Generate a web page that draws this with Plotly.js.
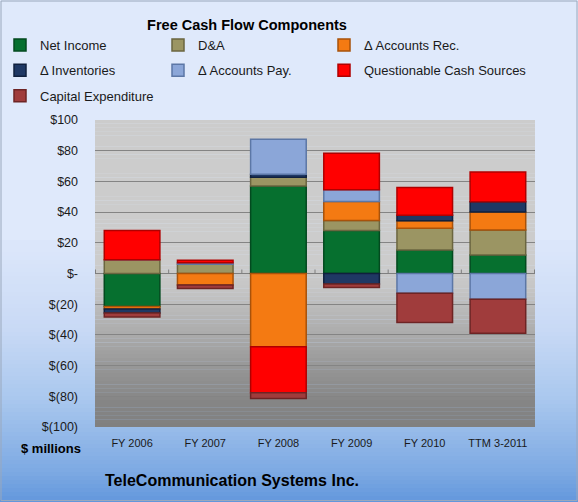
<!DOCTYPE html>
<html><head><meta charset="utf-8">
<script src="https://cdn.plot.ly/plotly-3.0.1.min.js"></script>
<style>html,body{margin:0;padding:0;background:#dde7f9;}#chart{width:578px;height:502px;}</style>
</head><body><div id="chart"></div>
<script>
const categories = ["FY 2006", "FY 2007", "FY 2008", "FY 2009", "FY 2010", "TTM 3-2011"];
const netIncome     = [-21.5,  0,    57,   28,   15.3, 12];
const depAmort      = [9,      6,    5.7,  6.5,  14.1, 16.3];
const accountsRec   = [-1.7,  -7.5, -47.7, 12.4, 5,    11.7];
const inventories   = [-2.6,   0,    2,   -6.8,  3.5,  6.7];
const accountsPay   = [0,      1,    22.8, 7.6, -12.9, -16.8];
const questionable  = [19,     1.7, -30,   23.9, 18.2, 19.5];
const capex         = [-2.6,  -2.2, -3.7, -2.4, -19.1, -22.1];

const tickVals = [100, 80, 60, 40, 20, 0, -20, -40, -60, -80, -100];
const tickText = ["$100", "$80", "$60", "$40", "$20", "$-", "$(20)", "$(40)", "$(60)", "$(80)", "$(100)"];

const seriesDefs = [
  {name: "Net Income", y: netIncome, color: "#06702f", line: "#034a1f", legend: "legend"},
  {name: "D&A", y: depAmort, color: "#9b9563", line: "#6b6640", legend: "legend2"},
  {name: "\u0394 Accounts Rec.", y: accountsRec, color: "#f47a12", line: "#a8520a", legend: "legend3"},
  {name: "\u0394 Inventories", y: inventories, color: "#1f3864", line: "#10203e", legend: "legend"},
  {name: "\u0394 Accounts Pay.", y: accountsPay, color: "#8ba6d8", line: "#5c77a6", legend: "legend2"},
  {name: "Questionable Cash Sources", y: questionable, color: "#ff0000", line: "#b00000", legend: "legend3"},
  {name: "Capital Expenditure", y: capex, color: "#a03c3c", line: "#6e2424", legend: "legend"}
];

const font = "Liberation Sans, Arial, sans-serif";
const txt = "#1a1a1a";
const traces = seriesDefs.map((s, i) => ({
  type: "bar", name: s.name, x: categories, y: s.y, legend: s.legend, legendgroup: "g" + i,
  marker: {color: s.color, line: {color: s.line, width: 1.5}},
  hoverinfo: "name+y"
}));

const shapes = [];
function lerp(a, b, t) { return a + (b - a) * t; }
// paper background gradient (pixel rows converted to paper fractions)
const H = 502, plotTop = 120, plotBot = 427, plotH = plotBot - plotTop;
const paperStops = [[0, [223, 233, 251]], [250, [219, 230, 250]], [330, [200, 217, 245]], [400, [169, 199, 238]], [470, [126, 170, 227]], [502, [98, 151, 220]]];
function stopColor(stops, v) {
  for (let k = 0; k < stops.length - 1; k++) {
    const a = stops[k], b = stops[k + 1];
    if (v >= a[0] && v <= b[0]) {
      const t = (v - a[0]) / (b[0] - a[0]);
      return a[1].map((c, j) => Math.round(lerp(c, b[1][j], t)));
    }
  }
  return stops[stops.length - 1][1];
}
for (let py = 240; py < H; py += 4) {
  const c = stopColor(paperStops, py + 2);
  shapes.push({type: "rect", xref: "paper", yref: "paper", x0: -95 / 440, x1: 483 / 440,
    y0: (plotBot - py) / plotH, y1: (plotBot - py - 4.5) / plotH,
    fillcolor: `rgb(${c[0]},${c[1]},${c[2]})`, line: {width: 0}, layer: "below"});
}
// plot area gray gradient (in data units)
const grayStops = [[-100, [128]], [-82, [134]], [-63, [149]], [-41, [170]], [-10, [197]], [5, [204]], [100, [204]]];
function grayAt(v) {
  for (let k = 0; k < grayStops.length - 1; k++) {
    const a = grayStops[k], b = grayStops[k + 1];
    if (v >= a[0] && v <= b[0]) return Math.round(lerp(a[1][0], b[1][0], (v - a[0]) / (b[0] - a[0])));
  }
  return 204;
}
for (let v = -100; v < 100; v += 2.5) {
  const c = grayAt(v + 1.25);
  shapes.push({type: "rect", xref: "x domain", yref: "y", x0: 0, x1: 1, y0: v, y1: v + 2.6,
    fillcolor: `rgb(${c},${c},${c})`, line: {width: 0}, layer: "below"});
}
// small category tick marks on the zero line
for (let k = 0; k <= categories.length; k++) {
  shapes.push({type: "line", xref: "x", yref: "y", x0: k - 0.5, x1: k - 0.5, y0: 0, y1: 2.6,
    line: {color: "#7f7f7f", width: 1}, layer: "above"});
}
// outer border
shapes.push({type: "rect", xref: "paper", yref: "paper", x0: -94 / 440, x1: 482 / 440, y0: (plotBot - 500.5) / plotH, y1: (plotBot - 1) / plotH,
  line: {color: "#9aa8bc", width: 1}, fillcolor: "rgba(0,0,0,0)", layer: "below"});

const legendBase = {orientation: "v", xref: "container", yref: "container", xanchor: "left", yanchor: "top",
  y: 1 - 30 / 502, tracegroupgap: 5.5, font: {size: 13, family: font, color: txt}, bgcolor: "rgba(0,0,0,0)",
  traceorder: "grouped", itemwidth: 30};

const layout = {
  width: 578, height: 502,
  margin: {l: 95, r: 43, t: 120, b: 75, autoexpand: false},
  paper_bgcolor: "#dfe9fb",
  plot_bgcolor: "rgba(0,0,0,0)",
  barmode: "relative",
  bargap: 0.24,
  font: {family: font, color: txt},
  title: {text: "<b>Free Cash Flow Components</b>", x: 247 / 578, xanchor: "center", y: 1 - 25 / 502, yanchor: "middle",
    font: {size: 14.5, family: font, color: "#000"}},
  showlegend: true,
  legend: Object.assign({}, legendBase, {x: 0}),
  legend2: Object.assign({}, legendBase, {x: 158 / 578}),
  legend3: Object.assign({}, legendBase, {x: 324 / 578}),
  xaxis: {type: "category", showgrid: false, zeroline: false, showline: false, ticks: "",
    tickfont: {size: 11, family: font, color: txt}, ticklabelstandoff: 8, fixedrange: true, automargin: false},
  yaxis: {range: [-100, 100], tickvals: tickVals, ticktext: tickText, showgrid: true,
    gridcolor: "#848484", gridwidth: 1, zeroline: true, zerolinecolor: "#7f7f7f", zerolinewidth: 1,
    tickfont: {size: 12.5, family: font, color: txt}, ticks: "", ticklabelstandoff: 16, showline: false, fixedrange: true, automargin: false},
  shapes: shapes,
  annotations: [
    {text: "<b>$ millions</b>", xref: "paper", yref: "paper", x: -76 / 440, y: (plotBot - 448) / plotH, xanchor: "left", yanchor: "middle",
      showarrow: false, font: {size: 13, family: font, color: "#000"}},
    {text: "<b>TeleCommunication Systems Inc.</b>", xref: "paper", yref: "paper", x: 8 / 440, y: (plotBot - 480) / plotH, xanchor: "left", yanchor: "middle",
      showarrow: false, font: {size: 16, family: font, color: "#000"}}
  ]
};
Plotly.newPlot("chart", traces, layout, {displayModeBar: false, staticPlot: true});
</script></body></html>
